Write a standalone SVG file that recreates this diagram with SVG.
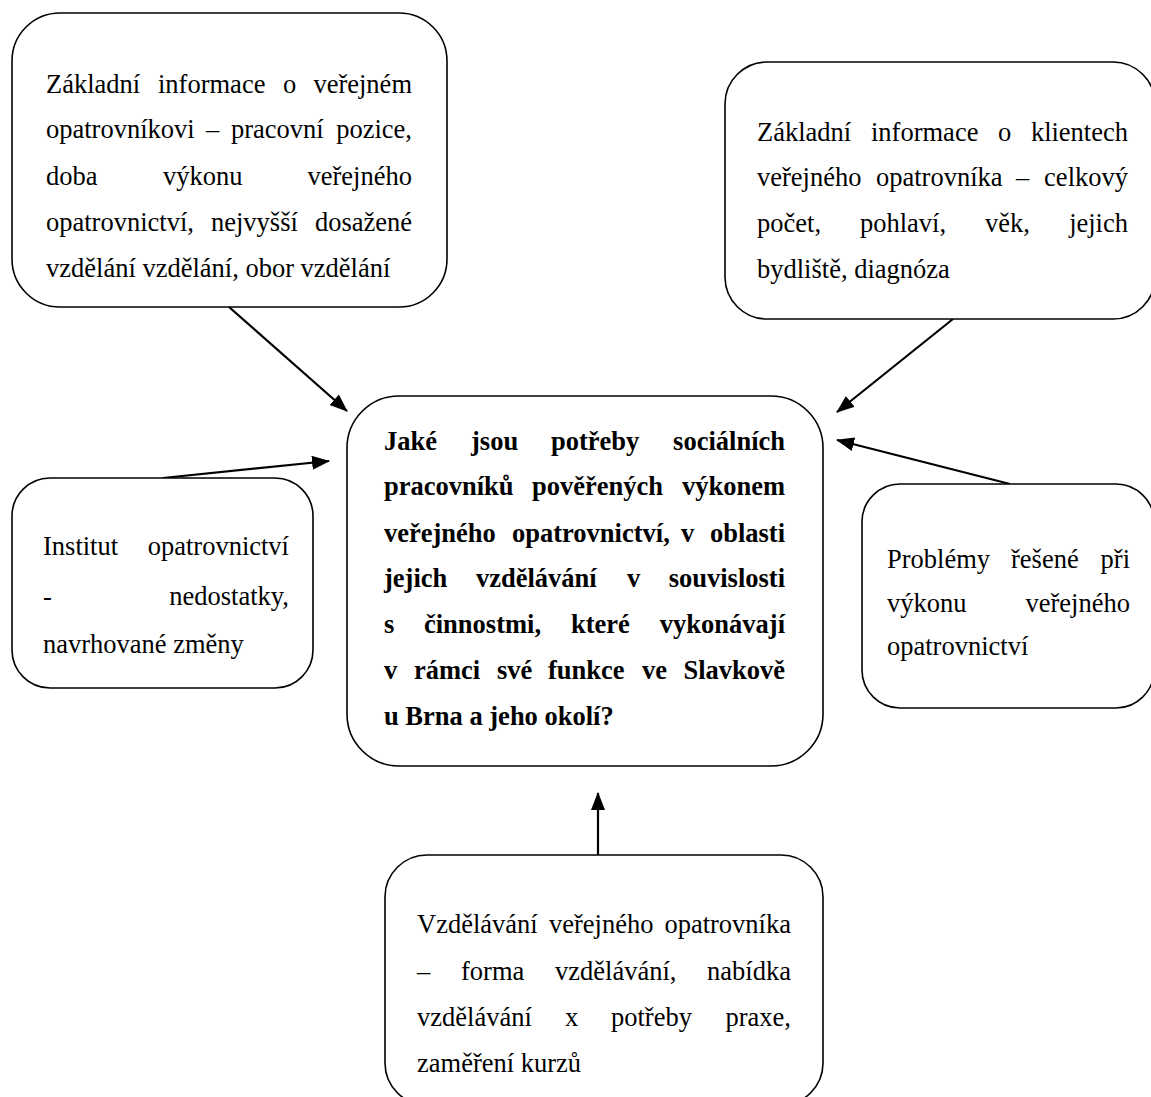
<svg xmlns="http://www.w3.org/2000/svg" width="1151" height="1097" viewBox="0 0 1151 1097">
<style>
.box{fill:#fff;stroke:#000;stroke-width:1.6}
.t{font-family:"Liberation Serif","Times New Roman",serif;font-size:26.5px;fill:#000}
.b{font-weight:bold}
.e{text-anchor:end}
.conn line{stroke:#000;stroke-width:2.2;marker-end:url(#ah)}
</style>
<defs>
<marker id="ah" markerUnits="userSpaceOnUse" markerWidth="20" markerHeight="16" refX="17" refY="7" orient="auto">
<path d="M0,0 L18,7 L0,14 z" fill="#000"/>
</marker>
</defs>
<rect width="1151" height="1097" fill="#fff"/>

<g id="conns" class="conn">
<line x1="229" y1="307" x2="347" y2="411"/>
<line x1="953" y1="319" x2="837" y2="412"/>
<line x1="163" y1="478" x2="329" y2="461"/>
<line x1="1010" y1="484" x2="837" y2="440"/>
<line x1="598" y1="855" x2="598" y2="793"/>
</g>

<g id="node-opatrovnik">
<rect class="box" x="12" y="13" width="435" height="294" rx="48"/>
<text class="t" x="46" y="93">Základní</text>
<text class="t" x="158" y="93">informace</text>
<text class="t" x="283" y="93">o</text>
<text class="t e" x="412" y="93">veřejném</text>
<text class="t" x="46" y="138">opatrovníkovi</text>
<text class="t" x="206" y="138">–</text>
<text class="t" x="231" y="138">pracovní</text>
<text class="t e" x="412" y="138">pozice,</text>
<text class="t" x="46" y="185">doba</text>
<text class="t" x="163" y="185">výkonu</text>
<text class="t e" x="412" y="185">veřejného</text>
<text class="t" x="46" y="231">opatrovnictví,</text>
<text class="t" x="211" y="231">nejvyšší</text>
<text class="t e" x="412" y="231">dosažené</text>
<text class="t" x="46" y="277">vzdělání vzdělání, obor vzdělání</text>
</g>

<g id="node-klienti">
<rect class="box" x="725" y="62" width="430" height="257" rx="42"/>
<text class="t" x="757" y="141">Základní</text>
<text class="t" x="871" y="141">informace</text>
<text class="t" x="998" y="141">o</text>
<text class="t e" x="1128" y="141">klientech</text>
<text class="t" x="757" y="186">veřejného</text>
<text class="t" x="876" y="186">opatrovníka</text>
<text class="t" x="1016" y="186">–</text>
<text class="t e" x="1128" y="186">celkový</text>
<text class="t" x="757" y="232">počet,</text>
<text class="t" x="860" y="232">pohlaví,</text>
<text class="t" x="985" y="232">věk,</text>
<text class="t e" x="1128" y="232">jejich</text>
<text class="t" x="757" y="278">bydliště, diagnóza</text>
</g>

<g id="node-center">
<rect class="box" x="347" y="396" width="476" height="370" rx="52"/>
<text class="t b" x="384" y="450">Jaké</text>
<text class="t b" x="471" y="450">jsou</text>
<text class="t b" x="551" y="450">potřeby</text>
<text class="t b e" x="785" y="450">sociálních</text>
<text class="t b" x="384" y="495">pracovníků</text>
<text class="t b" x="532" y="495">pověřených</text>
<text class="t b e" x="785" y="495">výkonem</text>
<text class="t b" x="384" y="542">veřejného</text>
<text class="t b" x="512" y="542">opatrovnictví,</text>
<text class="t b" x="681" y="542">v</text>
<text class="t b e" x="785" y="542">oblasti</text>
<text class="t b" x="384" y="587">jejich</text>
<text class="t b" x="476" y="587">vzdělávání</text>
<text class="t b" x="627" y="587">v</text>
<text class="t b e" x="785" y="587">souvislosti</text>
<text class="t b" x="384" y="633">s</text>
<text class="t b" x="424" y="633">činnostmi,</text>
<text class="t b" x="571" y="633">které</text>
<text class="t b e" x="785" y="633">vykonávají</text>
<text class="t b" x="384" y="679">v</text>
<text class="t b" x="414" y="679">rámci</text>
<text class="t b" x="497" y="679">své</text>
<text class="t b" x="548" y="679">funkce</text>
<text class="t b" x="642" y="679">ve</text>
<text class="t b e" x="785" y="679">Slavkově</text>
<text class="t b" x="384" y="725">u Brna a jeho okolí?</text>
</g>

<g id="node-institut">
<rect class="box" x="12" y="478" width="301" height="210" rx="38"/>
<text class="t" x="43" y="555">Institut</text>
<text class="t e" x="289" y="555">opatrovnictví</text>
<text class="t" x="43" y="605">-</text>
<text class="t e" x="289" y="605">nedostatky,</text>
<text class="t" x="43" y="653">navrhované změny</text>
</g>

<g id="node-problemy">
<rect class="box" x="862" y="484" width="292" height="224" rx="38"/>
<text class="t" x="887" y="568">Problémy</text>
<text class="t" x="1011" y="568">řešené</text>
<text class="t e" x="1130" y="568">při</text>
<text class="t" x="887" y="612">výkonu</text>
<text class="t e" x="1130" y="612">veřejného</text>
<text class="t" x="887" y="655">opatrovnictví</text>
</g>

<g id="node-vzdelavani">
<rect class="box" x="385" y="855" width="438" height="250" rx="42"/>
<text class="t" x="417" y="933">Vzdělávání</text>
<text class="t" x="549" y="933">veřejného</text>
<text class="t e" x="791" y="933">opatrovníka</text>
<text class="t" x="417" y="980">–</text>
<text class="t" x="461" y="980">forma</text>
<text class="t" x="555" y="980">vzdělávání,</text>
<text class="t e" x="791" y="980">nabídka</text>
<text class="t" x="417" y="1026">vzdělávání</text>
<text class="t" x="565" y="1026">x</text>
<text class="t" x="611" y="1026">potřeby</text>
<text class="t e" x="791" y="1026">praxe,</text>
<text class="t" x="417" y="1072">zaměření kurzů</text>
</g>
</svg>
